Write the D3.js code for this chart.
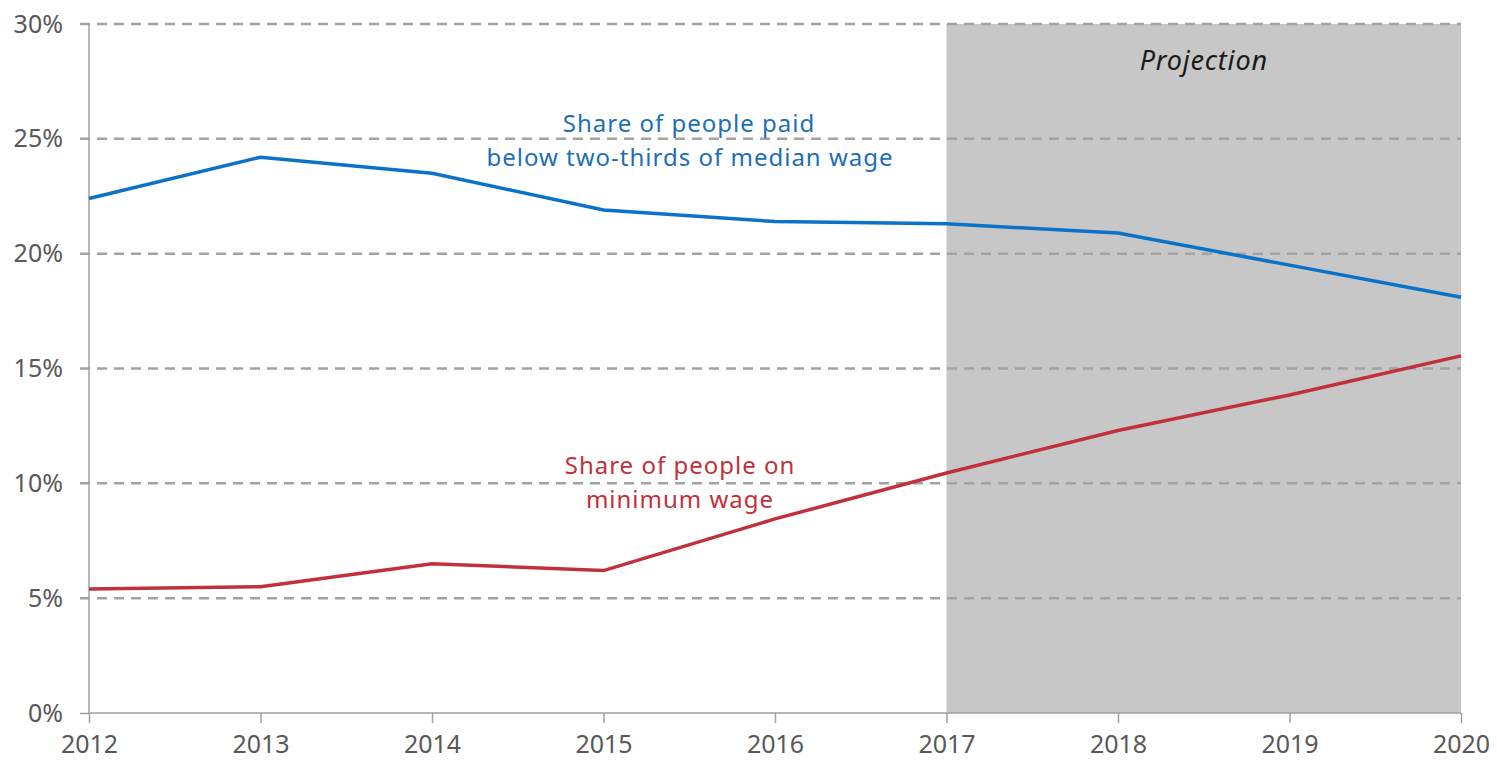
<!DOCTYPE html>
<html>
<head>
<meta charset="utf-8">
<script src="https://cdn.jsdelivr.net/npm/d3@7"></script>
<style>
  body { margin: 0; background: #fff; }
  svg text { font-family: "Noto Sans", Lato, sans-serif; }
</style>
</head>
<body>
<div id="chart"></div>
<script>
const years = [2012, 2013, 2014, 2015, 2016, 2017, 2018, 2019, 2020];
const belowTwoThirds = [22.4, 24.2, 23.5, 21.9, 21.4, 21.3, 20.9, 19.5, 18.1];
const minimumWage = [5.4, 5.5, 6.5, 6.2, 8.45, 10.45, 12.3, 13.85, 15.55];
const yTicks = [0, 5, 10, 15, 20, 25, 30];
const projectionStart = 2017;
const projectionEnd = 2020;

const width = 1497, height = 765;
const margin = {top: 24, right: 36, bottom: 52, left: 89};

const svg = d3.select("#chart").append("svg")
    .attr("width", width)
    .attr("height", height);

const x = d3.scaleLinear()
    .domain([2012, 2020])
    .range([margin.left, width - margin.right]);

const y = d3.scaleLinear()
    .domain([0, 30])
    .range([height - margin.bottom, margin.top]);

// projection shading
svg.append("rect")
    .attr("x", x(projectionStart))
    .attr("y", y(30))
    .attr("width", x(projectionEnd) - x(projectionStart))
    .attr("height", y(0) - y(30))
    .attr("fill", "#c6c7c6");

svg.append("text")
    .attr("x", (x(projectionStart) + x(projectionEnd)) / 2)
    .attr("y", y(30) + 46)
    .attr("text-anchor", "middle")
    .style("font-style", "italic")
    .style("font-size", "27px")
    .style("letter-spacing", "0.8px")
    .style("fill", "#1a1a1a")
    .text("Projection");

// gridlines
svg.append("g")
    .selectAll("line")
    .data(yTicks.filter(d => d > 0))
    .enter().append("line")
    .attr("x1", margin.left - 9)
    .attr("x2", width - margin.right)
    .attr("y1", d => y(d))
    .attr("y2", d => y(d))
    .attr("stroke", "#a3a3a3")
    .attr("stroke-width", 2.5)
    .attr("stroke-dasharray", "10,7");

// y axis
const yAxis = svg.append("g")
    .attr("transform", `translate(${margin.left},0)`)
    .call(d3.axisLeft(y).tickValues(yTicks).tickSize(9).tickPadding(17).tickFormat(d => d + "%"));

// x axis
const xAxis = svg.append("g")
    .attr("transform", `translate(0,${y(0)})`)
    .call(d3.axisBottom(x).tickValues(years).tickSize(10).tickPadding(12).tickFormat(d3.format("d")));

[yAxis, xAxis].forEach(g => {
    g.select(".domain").attr("stroke", "#a0a0a0").attr("stroke-width", 1.5);
    g.selectAll(".tick line").attr("stroke", "#a0a0a0").attr("stroke-width", 1.5);
    g.selectAll(".tick text")
        .style("font-size", "25px")
        .style("fill", "#595959")
        .style("font-family", "'Noto Sans', Lato, sans-serif");
});
yAxis.selectAll(".tick line").filter(d => d > 0).remove();
yAxis.select(".domain").attr("d", `M0,${y(30)}V${y(0)}`);
xAxis.select(".domain").attr("d", `M${x(2012)},0H${x(2020)}`);

// lines
const line = d3.line()
    .x((d, i) => x(years[i]))
    .y(d => y(d));

svg.append("path")
    .datum(belowTwoThirds)
    .attr("fill", "none")
    .attr("stroke", "#0a72c8")
    .attr("stroke-width", 3.5)
    .attr("d", line);

svg.append("path")
    .datum(minimumWage)
    .attr("fill", "none")
    .attr("stroke", "#c1303b")
    .attr("stroke-width", 3.5)
    .attr("d", line);

// annotations
const blueLabel = svg.append("text")
    .attr("text-anchor", "middle")
    .style("font-size", "24px")
    .style("letter-spacing", "1px")
    .style("fill", "#1d6fb8");
blueLabel.append("tspan").attr("x", 689).attr("y", 132).text("Share of people paid");
blueLabel.append("tspan").attr("x", 690).attr("y", 166).text("below two-thirds of median wage");

const redLabel = svg.append("text")
    .attr("text-anchor", "middle")
    .style("font-size", "24px")
    .style("letter-spacing", "1px")
    .style("fill", "#c1303b");
redLabel.append("tspan").attr("x", 680).attr("y", 474).text("Share of people on");
redLabel.append("tspan").attr("x", 680).attr("y", 508).text("minimum wage");
</script>
</body>
</html>
